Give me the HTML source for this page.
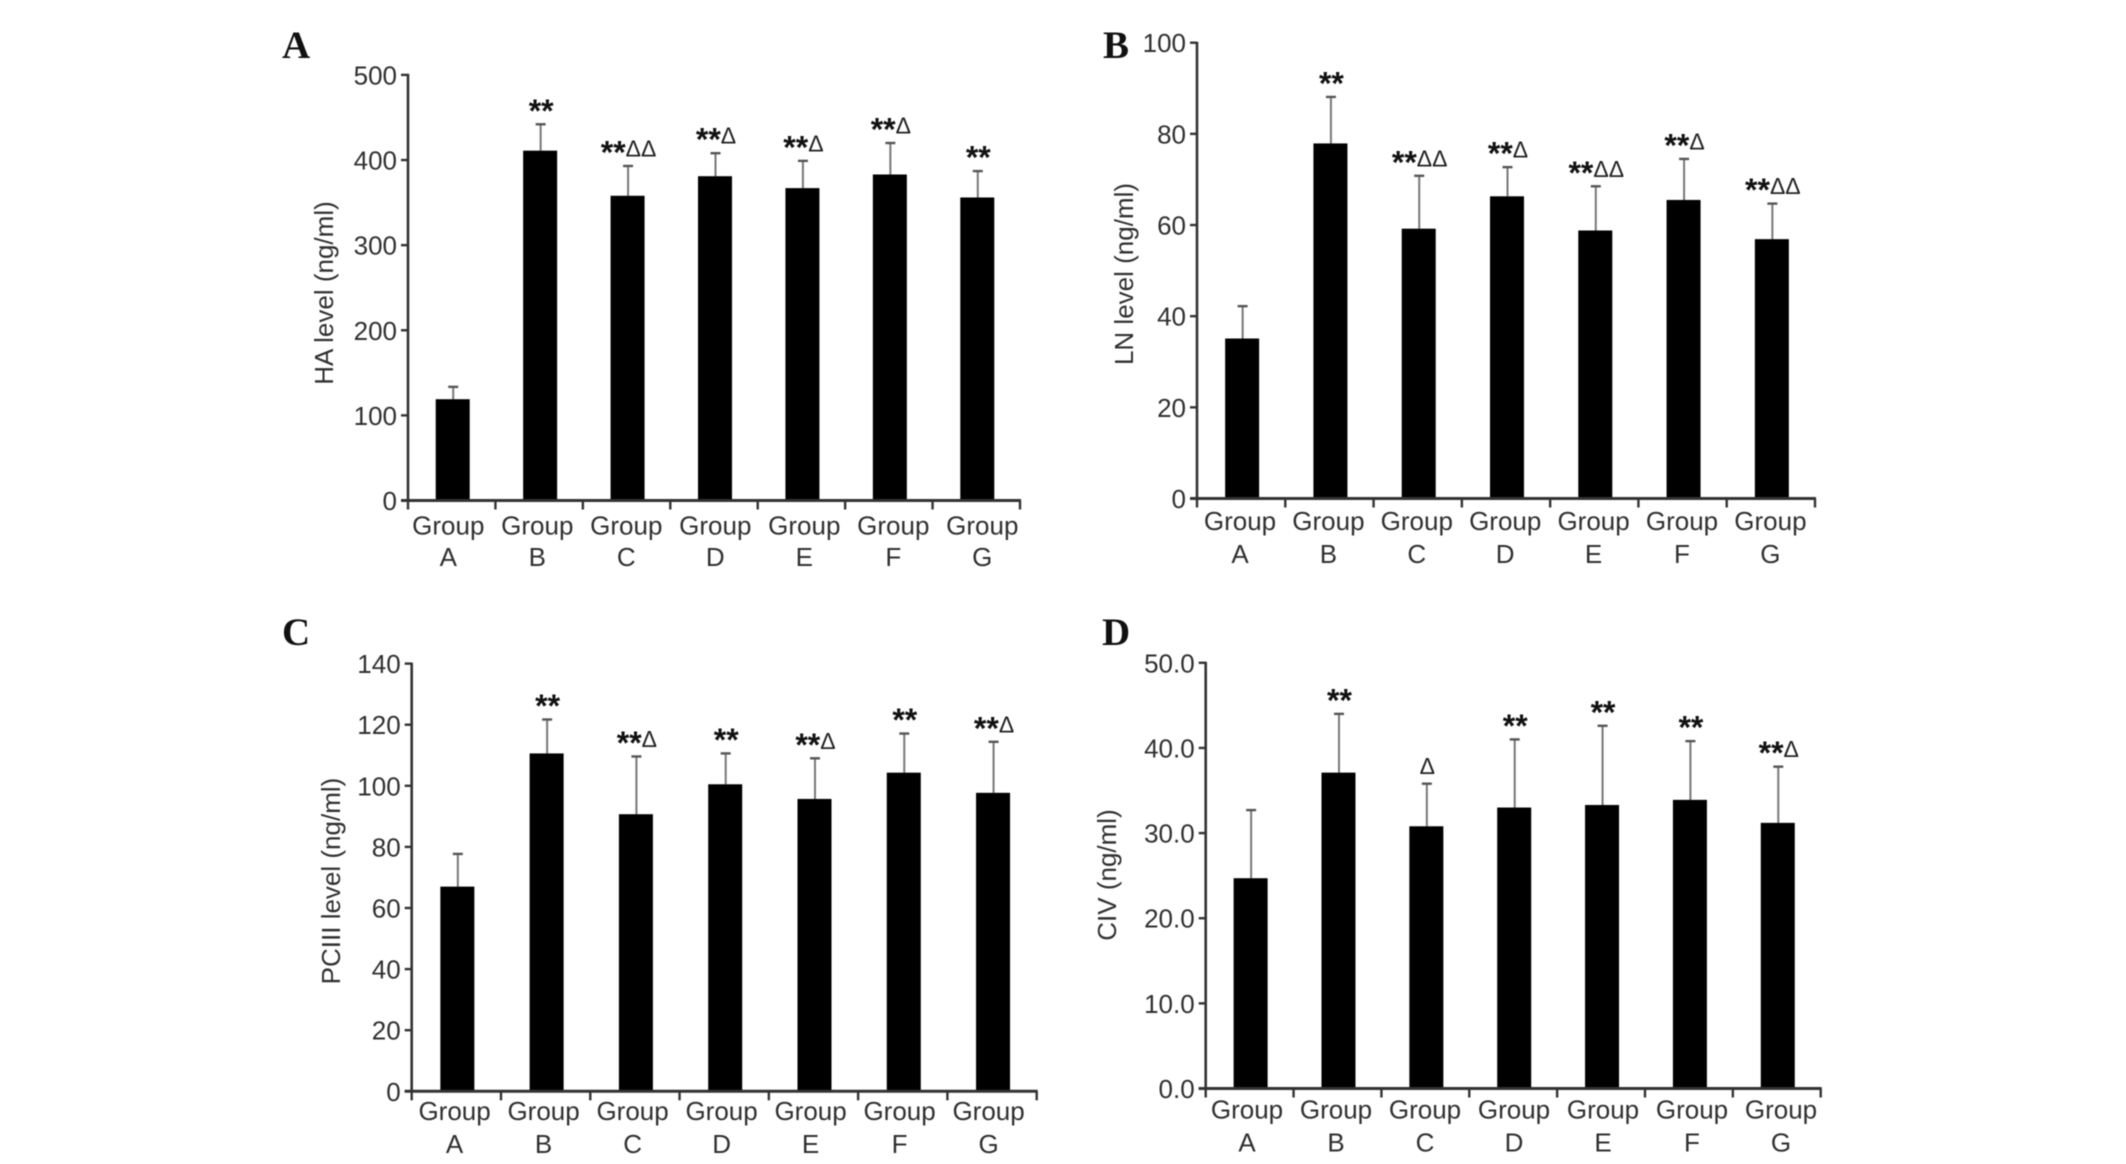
<!DOCTYPE html>
<html lang="en">
<head>
<meta charset="utf-8">
<title>Serum fibrosis marker levels by group</title>
<style>
html,body{margin:0;padding:0;background:#fff;width:2126px;height:1164px;overflow:hidden}
svg{display:block;filter:blur(.6px)}
text{font-family:"Liberation Sans",sans-serif;fill:#303030}
</style>
</head>
<body>
<svg id="chart" xmlns="http://www.w3.org/2000/svg" width="2126" height="1164" viewBox="0 0 2126 1164"></svg>
<script>
const categories = ['A', 'B', 'C', 'D', 'E', 'F', 'G'];

const haMeans = [119, 411, 358, 381, 367, 383, 356];
const haErrorTops = [133.5, 442, 393, 408, 399, 420, 387];
const haMarks = ['', '**', '**ΔΔ', '**Δ', '**Δ', '**Δ', '**'];
const haTicks = ['0', '100', '200', '300', '400', '500'];

const lnMeans = [35.1, 77.9, 59.2, 66.3, 58.8, 65.5, 56.9];
const lnErrorTops = [42.2, 88.1, 70.8, 72.7, 68.5, 74.5, 64.7];
const lnMarks = ['', '**', '**ΔΔ', '**Δ', '**ΔΔ', '**Δ', '**ΔΔ'];
const lnTicks = ['0', '20', '40', '60', '80', '100'];

const pcMeans = [67, 110.6, 90.7, 100.5, 95.7, 104.3, 97.7];
const pcErrorTops = [77.7, 121.7, 109.6, 110.6, 109, 117.1, 114.4];
const pcMarks = ['', '**', '**Δ', '**', '**Δ', '**', '**Δ'];
const pcTicks = ['0', '20', '40', '60', '80', '100', '120', '140'];

const civMeans = [24.7, 37.1, 30.8, 33.0, 33.3, 33.9, 31.2];
const civErrorTops = [32.7, 44.0, 35.8, 41.0, 42.6, 40.8, 37.8];
const civMarks = ['', '**', 'Δ', '**', '**', '**', '**Δ'];
const civTicks = ['0.0', '10.0', '20.0', '30.0', '40.0', '50.0'];

const panels = [
  {id: 'a', letter: 'A', letterX: 282, letterY: 58, title: 'HA level (ng/ml)', titleX: 333, titleY: 293,
   means: haMeans, tops: haErrorTops, marks: haMarks, ticks: haTicks,
   left: 408, right: 1020, plotTop: 74.9, plotBottom: 500.5, labelStart: 448.3, labelStep: 89.0, line1: 534.3, line2: 566},
  {id: 'b', letter: 'B', letterX: 1103, letterY: 58, title: 'LN level (ng/ml)', titleX: 1133, titleY: 274,
   means: lnMeans, tops: lnErrorTops, marks: lnMarks, ticks: lnTicks,
   left: 1197, right: 1815, plotTop: 42.7, plotBottom: 498.5, labelStart: 1240, labelStep: 88.4, line1: 530, line2: 563},
  {id: 'c', letter: 'C', letterX: 282, letterY: 645, title: 'PCIII level (ng/ml)', titleX: 340, titleY: 881,
   means: pcMeans, tops: pcErrorTops, marks: pcMarks, ticks: pcTicks,
   left: 411.7, right: 1036.7, plotTop: 663.6, plotBottom: 1091.3, labelStart: 454.6, labelStep: 89.0, line1: 1120, line2: 1153},
  {id: 'd', letter: 'D', letterX: 1102, letterY: 645, title: 'CIV (ng/ml)', titleX: 1116, titleY: 875,
   means: civMeans, tops: civErrorTops, marks: civMarks, ticks: civTicks,
   left: 1205.7, right: 1820.7, plotTop: 662.8, plotBottom: 1088.5, labelStart: 1247, labelStep: 89.0, line1: 1118.6, line2: 1151.3}
];

const NS = 'http://www.w3.org/2000/svg';
const root = document.getElementById('chart');

function make(tag, attrs, parent, content) {
  const el = document.createElementNS(NS, tag);
  Object.keys(attrs).forEach(function (k) { el.setAttribute(k, attrs[k]); });
  if (content !== undefined) el.textContent = content;
  parent.appendChild(el);
  return el;
}

function drawPanel(p) {
  const maxValue = parseFloat(p.ticks[p.ticks.length - 1]);
  const minValue = parseFloat(p.ticks[0]);
  const yScale = function (v) {
    return p.plotBottom - (v - minValue) / (maxValue - minValue) * (p.plotBottom - p.plotTop);
  };
  const band = (p.right - p.left) / categories.length;
  const xCenter = function (i) { return p.left + (i + 0.5) * band + 1; };
  const barWidth = 34;

  const g = make('g', {}, root);
  
  

  const letter = make('text', {x: p.letterX, y: p.letterY, 'font-size': 39, 'font-weight': 'bold', style: 'font-family:"Liberation Serif",serif;fill:#111'}, g, p.letter);
  
  

  const title = make('text', {x: p.titleX, y: p.titleY, 'font-size': 26, 'text-anchor': 'middle', transform: 'rotate(-90 ' + p.titleX + ' ' + p.titleY + ')'}, g, p.title);
  
  

  p.ticks.forEach(function (t) {
    const y = yScale(parseFloat(t));
    const tick = make('line', {x1: p.left - 7, x2: p.left, y1: y, y2: y, stroke: '#333', 'stroke-width': 2.4}, g);
    
    
    const label = make('text', {x: p.left - 11, y: y + 9.5, 'font-size': 26, 'text-anchor': 'end'}, g, t);
    
    
  });

  categories.forEach(function (c, i) {
    const cx = xCenter(i);
    const topY = yScale(p.tops[i]);
    const meanY = yScale(p.means[i]);

    const err = make('line', {x1: cx + 0.5, x2: cx + 0.5, y1: meanY, y2: topY, stroke: '#777', 'stroke-width': 2}, g);
    
    

    const cap = make('line', {x1: cx - 4.5, x2: cx + 5.5, y1: topY, y2: topY, stroke: '#555', 'stroke-width': 2.4}, g);
    
    

    const bar = make('rect', {x: cx - barWidth / 2, y: meanY, width: barWidth, height: yScale(minValue) - meanY, fill: '#000'}, g);
    
    

    const mark = p.marks[i];
    if (mark) {
      const stars = mark.replace(/Δ/g, '');
      const deltas = mark.replace(/\*/g, '');
      const note = make('text', {x: cx + 1, y: stars ? topY - 2.5 : topY - 9.5, 'text-anchor': 'middle'}, g);
      
      
      if (stars) make('tspan', {'font-size': 32, 'font-weight': 'bold', style: 'fill:#111'}, note, stars);
      if (deltas) make('tspan', {'font-size': 23, dy: stars ? -7 : 0, style: 'fill:#222'}, note, deltas);
    }

    const lx = p.labelStart + i * p.labelStep;
    const word = make('text', {x: lx, y: p.line1, 'font-size': 26, 'text-anchor': 'middle'}, g, 'Group');
    
    
    const name = make('text', {x: lx, y: p.line2, 'font-size': 26, 'text-anchor': 'middle'}, g, c);
    
    
  });

  for (let i = 0; i <= categories.length; i++) {
    const x = p.left + i * band;
    const xt = make('line', {x1: x, x2: x, y1: p.plotBottom, y2: p.plotBottom + 9, stroke: '#333', 'stroke-width': 2.4}, g);
    
    
  }

  const yAxis = make('line', {x1: p.left, x2: p.left, y1: p.plotTop - 1, y2: p.plotBottom + 1, stroke: '#333', 'stroke-width': 2.6}, g);
  
  

  const xAxis = make('line', {x1: p.left - 7, x2: p.right + 1, y1: p.plotBottom, y2: p.plotBottom, stroke: '#333', 'stroke-width': 3}, g);
  
  
}

panels.forEach(drawPanel);
</script>
</body>
</html>
